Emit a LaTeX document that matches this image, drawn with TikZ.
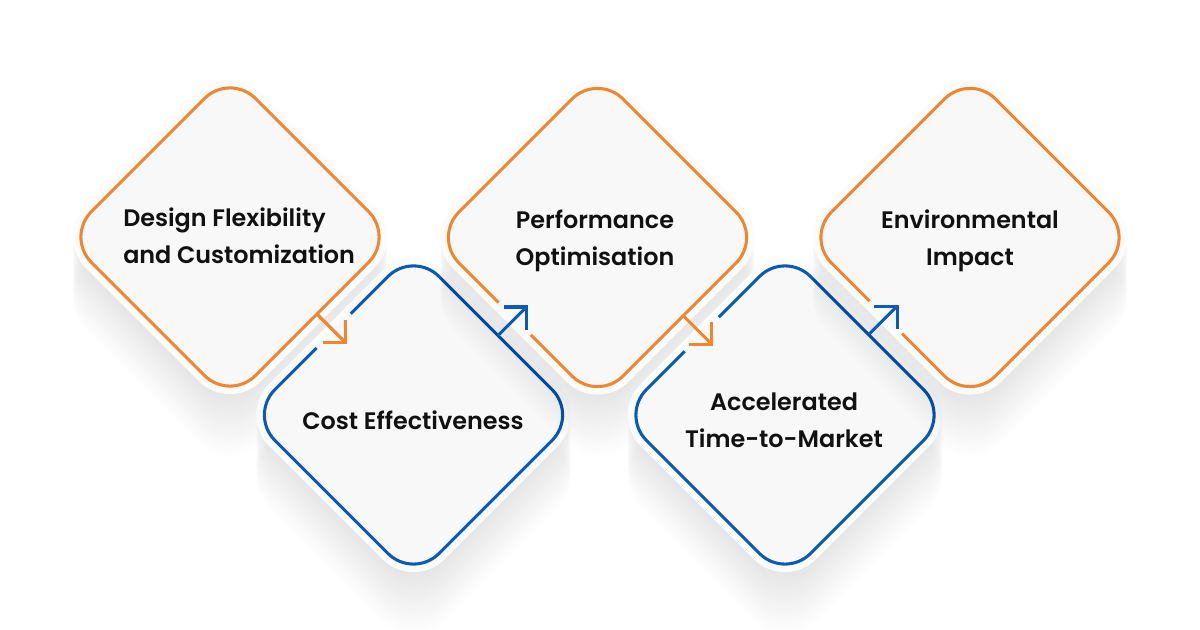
\documentclass[tikz,border=0pt]{standalone}
\usepackage{fontspec}
\newfontfamily\lblfont{Poppins SemiBold}
\usetikzlibrary{calc,arrows.meta,shapes.geometric}
\definecolor{orng}{HTML}{F2852F}
\definecolor{blu}{HTML}{0B5BB5}
\definecolor{dfill}{HTML}{F8F8F8}
\definecolor{halofill}{HTML}{FCFCFC}
\definecolor{txt}{HTML}{111111}
\tikzset{
  diam/.style={shape=diamond, minimum width=246pt, minimum height=246pt,
    inner sep=0pt, outer sep=0pt, rounded corners=27pt, fill=dfill, line width=2.3pt},
  odiam/.style={diam, draw=orng},
  bdiam/.style={diam, draw=blu},
  halonode/.style={shape=diamond, minimum width=263pt, minimum height=263pt,
    inner sep=0pt, outer sep=0pt, rounded corners=33pt, fill=halofill},
  shadowfill/.style={fill=black, fill opacity=0.0035},
  lbl/.style={font=\lblfont\fontsize{17.9pt}{27.75pt}\selectfont, text=txt, inner sep=0pt},
  oconn/.style={draw=orng, line width=2.3pt, -{Straight Barb[length=12pt, width=24pt]}},
  bconn/.style={draw=blu, line width=2.3pt, -{Straight Barb[length=12pt, width=24pt]}},
  gapline/.style={draw=dfill, line width=4pt},
}
\newcommand\dropshade[1]{%
  \foreach \k in {1,...,25}{%
    \fill[shadowfill, rounded corners=33pt]
      ($(#1)+(0,-175.3+2.5*\k)$) -- ($(#1)+(175.3,2.5*\k)$) --
      ($(#1)+(0,175.3+2.5*\k)$) -- ($(#1)+(-175.3,2.5*\k)$) -- cycle;}}
\begin{document}
\begin{tikzpicture}[x=0.75pt, y=-0.75pt]
\fill[white] (0,0) rectangle (1200,630);
\useasboundingbox (0,0) rectangle (1200,630);

\coordinate (c1) at (230,237);
\coordinate (c2) at (413.5,415);
\coordinate (c3) at (597.5,237.5);
\coordinate (c4) at (785,415);
\coordinate (c5) at (970,237.5);

% diamond 1
\dropshade{c1}
\node[halonode] (h1) at (c1) {};
\node[odiam] (d1) at (c1) {};
% diamond 2
\dropshade{c2}
\node[halonode] (h2) at (c2) {};
\node[bdiam] (d2) at (c2) {};
% diamond 3
\dropshade{c3}
\node[halonode] (h3) at (c3) {};
\node[odiam] (d3) at (c3) {};
% diamond 4
\dropshade{c4}
\node[halonode] (h4) at (c4) {};
\node[bdiam] (d4) at (c4) {};
% diamond 5
\dropshade{c5}
\node[halonode] (h5) at (c5) {};
\node[odiam] (d5) at (c5) {};

% connector start / end points
\coordinate (a1s) at ($(d1.east)!0.47!(d1.south)$);
\coordinate (a1e) at ($(a1s)+(30,30)$);
\coordinate (a2s) at ($(d2.north)!0.515!(d2.east)$);
\coordinate (a2e) at ($(a2s)+(30,-30)$);
\coordinate (a3s) at ($(d3.east)!0.477!(d3.south)$);
\coordinate (a3e) at ($(a3s)+(30,30)$);
\coordinate (a4s) at ($(d4.north)!0.51!(d4.east)$);
\coordinate (a4e) at ($(a4s)+(30,-30)$);

% crossings with the next diamond's outline
\coordinate (x1) at (intersection of a1s--a1e and d2.north--d2.west);
\coordinate (x2) at (intersection of a2s--a2e and d3.west--d3.south);
\coordinate (x3) at (intersection of a3s--a3e and d4.north--d4.west);
\coordinate (x4) at (intersection of a4s--a4e and d5.west--d5.south);
\draw[gapline] ($(x1)!18pt!(d2.north)$) -- ($(x1)!18pt!(d2.west)$);
\draw[gapline] ($(x2)!17pt!(d3.west)$) -- ($(x2)!17pt!(d3.south)$);
\draw[gapline] ($(x3)!18pt!(d4.north)$) -- ($(x3)!18pt!(d4.west)$);
\draw[gapline] ($(x4)!17pt!(d5.west)$) -- ($(x4)!17pt!(d5.south)$);

\draw[oconn] (a1s) -- (a1e);
\draw[bconn] (a2s) -- (a2e);
\draw[oconn] (a3s) -- (a3e);
\draw[bconn] (a4s) -- (a4e);

% labels
\node[lbl, align=left, anchor=west] (t1) at (123,238) {Design Flexibility\strut\\and Customization\strut};
\node[lbl, align=center] (t2) at (413,422.6) {Cost Effectiveness\strut};
\node[lbl, align=center] (t3) at (595,240) {Performance\strut\\Optimisation\strut};
\node[lbl, align=center] (t4) at (784,421.6) {Accelerated\strut\\Time-to-Market\strut};
\node[lbl, align=center] (t5) at (970,240) {Environmental\strut\\Impact\strut};
\end{tikzpicture}
\end{document}
